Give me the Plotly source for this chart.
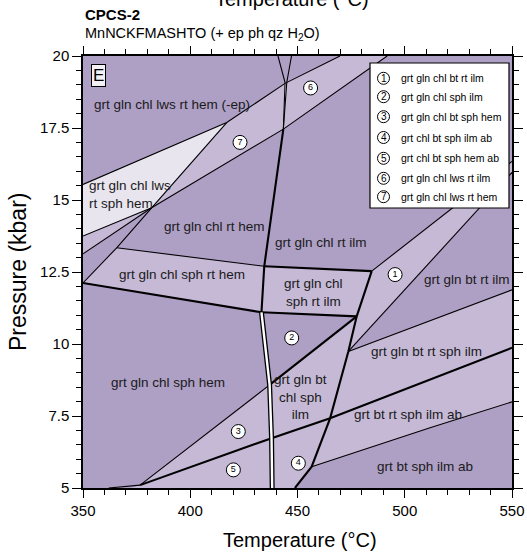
import plotly.graph_objects as go

# ---------------- data (T in degC, P in kbar) ----------------
T_RANGE = [350, 550]
P_RANGE = [5, 20]

DARK = "#AE9FC4"
LIGHT = "#C5B9D6"
VLIGHT = "#E9E5EF"

# light / very light field polygons (background is the dark field colour)
f_lws_sph_T = [350, 417.0, 382.0, 350]
f_lws_sph_P = [15.54, 17.69, 14.73, 13.75]
f_wedge_T = [350, 382.0, 350]
f_wedge_P = [13.75, 14.73, 13.13]
f_band67_T = [382.0, 417.0, 444.2, 469.8, 491.8, 443.4]
f_band67_P = [14.73, 17.69, 19.05, 20.0, 20.0, 17.46]
f_sliver_T = [444.2, 445.0, 443.4]
f_sliver_P = [19.08, 19.08, 17.46]
f_sphrthem_T = [350, 365.7, 434.5, 433.2]
f_sphrthem_P = [12.12, 13.34, 12.70, 11.10]
f_sphrtilm_T = [434.5, 484.6, 477.6, 433.2]
f_sphrtilm_P = [12.70, 12.53, 10.96, 11.10]
f_one_T = [484.6, 550, 550, 473.7, 477.6]
f_one_P = [12.53, 16.34, 15.96, 9.74, 10.96]
f_glnbtchl_T = [437.0, 477.6, 473.7, 465.2, 437.9]
f_glnbtchl_P = [8.58, 10.96, 9.74, 7.42, 6.73]
f_glnbtrtsph_T = [473.7, 550, 550, 465.2]
f_glnbtrtsph_P = [9.74, 11.88, 9.87, 7.42]
f_btrtsphab_T = [465.2, 550, 550, 511.8, 456.6]
f_btrtsphab_P = [7.42, 9.87, 7.99, 7.09, 5.74]
f_four_T = [437.9, 465.2, 456.6, 448.8, 438.2]
f_four_P = [6.73, 7.42, 5.74, 5.0, 5.0]
f_three_T = [376.6, 437.0, 437.9]
f_three_P = [5.10, 8.58, 6.73]
f_five_T = [376.6, 437.9, 438.2, 372.0]
f_five_P = [5.10, 6.73, 5.0, 5.0]

fields = [
    (f_lws_sph_T, f_lws_sph_P, VLIGHT),
    (f_wedge_T, f_wedge_P, LIGHT),
    (f_band67_T, f_band67_P, LIGHT),
    (f_sliver_T, f_sliver_P, VLIGHT),
    (f_sphrthem_T, f_sphrthem_P, LIGHT),
    (f_sphrtilm_T, f_sphrtilm_P, LIGHT),
    (f_one_T, f_one_P, LIGHT),
    (f_glnbtchl_T, f_glnbtchl_P, LIGHT),
    (f_glnbtrtsph_T, f_glnbtrtsph_P, LIGHT),
    (f_btrtsphab_T, f_btrtsphab_P, LIGHT),
    (f_four_T, f_four_P, LIGHT),
    (f_three_T, f_three_P, LIGHT),
    (f_five_T, f_five_P, LIGHT),
]

# boundary lines
thin_lines = [
    ([350, 417.0], [15.54, 17.69]),
    ([350, 365.7, 382.0, 417.0], [12.12, 13.34, 14.73, 17.69]),
    ([417.0, 444.2, 469.8], [17.69, 19.05, 20.0]),
    ([382.0, 443.4, 491.8], [14.73, 17.46, 20.0]),
    ([350, 382.0], [13.75, 14.73]),
    ([350, 382.0], [13.13, 14.73]),
    ([440.9, 444.2, 443.4], [20.0, 19.08, 17.46]),
    ([447.2, 445.0, 443.4], [20.0, 19.08, 17.46]),
    ([365.7, 434.5], [13.34, 12.70]),
    ([484.6, 550], [12.53, 16.34]),
    ([473.7, 550], [9.74, 15.96]),
    ([473.7, 550], [9.74, 11.88]),
    ([437.0, 376.6], [8.58, 5.10]),
    ([362.0, 376.6], [5.0, 5.10]),
    ([456.6, 511.8, 550], [5.74, 7.09, 7.99]),
]
thick_lines = [
    ([443.4, 440.8, 434.5, 433.2], [17.46, 16.07, 12.70, 11.10]),
    ([350, 433.2], [12.12, 11.10]),
    ([434.5, 484.6], [12.70, 12.53]),
    ([433.2, 477.6], [11.10, 10.96]),
    ([484.6, 477.6, 473.7, 465.2, 456.6, 448.8], [12.53, 10.96, 9.74, 7.42, 5.74, 5.0]),
    ([477.6, 437.0], [10.96, 8.58]),
    ([376.6, 437.9, 465.2, 550], [5.10, 6.73, 7.42, 9.87]),
]
double_T = [433.2, 435.3, 437.0, 437.9, 438.2]
double_P = [11.10, 9.8, 8.58, 6.73, 5.0]

# field labels
label_text = [
    "grt gln chl lws rt hem (-ep)", "grt gln chl rt hem", "grt gln chl rt ilm",
    "grt gln chl sph rt hem", "grt gln chl<br>sph rt ilm", "grt gln bt rt ilm",
    "grt gln bt rt sph ilm", "grt gln chl sph hem", "grt gln bt<br>chl sph<br>ilm",
    "grt bt rt sph ilm ab", "grt bt sph ilm ab",
]
label_T = [391.3, 411.5, 461.0, 396.0, 457.4, 528.8, 510.2, 389.8, 451.2, 501.7, 509.4]
label_P = [18.33, 14.09, 13.53, 12.41, 11.80, 12.24, 9.74, 8.66, 8.17, 7.54, 5.76]
left_label_text = "grt gln chl lws<br>rt sph hem"
left_label_T = 352.0
left_label_P = 15.18

circ_num = ["1", "2", "3", "4", "5", "6", "7"]
circ_T = [495.5, 447.3, 422.4, 450.4, 420.1, 456.1, 423.2]
circ_P = [12.41, 10.21, 6.96, 5.86, 5.63, 18.89, 17.00]

legend_text = [
    "grt gln chl bt rt ilm", "grt gln chl sph ilm", "grt gln chl bt sph hem",
    "grt chl bt sph ilm ab", "grt chl bt sph hem ab", "grt gln chl lws rt ilm",
    "grt gln chl lws rt hem",
]

x_ticks = [350, 400, 450, 500, 550]
y_ticks = [5, 7.5, 10, 12.5, 15, 17.5, 20]

# ---------------- figure ----------------
W, H = 527, 554
X0, X1 = 83, 512
Y0, Y1 = 56, 488
FONT = "Liberation Sans, Arial, Helvetica, sans-serif"


def pxx(px):
    return (px - X0) / (X1 - X0)


def pxy(py):
    return (Y1 - py) / (Y1 - Y0)


def pann(x, y, text, size, xanchor="center", **kw):
    d = dict(x=pxx(x), y=pxy(y), xref="paper", yref="paper", text=text, showarrow=False,
             xanchor=xanchor, yanchor="middle", font=dict(family=FONT, size=size, color="black"))
    d.update(kw)
    return d


fig = go.Figure()
for tt, pp, col in fields:
    fig.add_trace(go.Scatter(x=tt, y=pp, fill="toself", fillcolor=col, mode="lines",
                             line=dict(width=0, color=col), hoverinfo="skip", showlegend=False))
for tt, pp in thin_lines:
    fig.add_trace(go.Scatter(x=tt, y=pp, mode="lines", line=dict(color="black", width=1.1),
                             hoverinfo="skip", showlegend=False))
for tt, pp in thick_lines:
    fig.add_trace(go.Scatter(x=tt, y=pp, mode="lines", line=dict(color="black", width=2.1),
                             hoverinfo="skip", showlegend=False))
fig.add_trace(go.Scatter(x=double_T, y=double_P, mode="lines", line=dict(color="black", width=5),
                         hoverinfo="skip", showlegend=False))
fig.add_trace(go.Scatter(x=double_T, y=double_P, mode="lines", line=dict(color="white", width=2.4),
                         hoverinfo="skip", showlegend=False))
fig.add_trace(go.Scatter(x=circ_T, y=circ_P, mode="markers+text", text=circ_num,
                         textposition="middle center",
                         textfont=dict(family=FONT, size=9, color="black"),
                         marker=dict(size=14, color="white", line=dict(color="black", width=1)),
                         hoverinfo="skip", showlegend=False))

ann = []
for t, x, y in zip(label_text, label_T, label_P):
    ann.append(dict(x=x, y=y, xref="x", yref="y", text=t, showarrow=False,
                    xanchor="center", yanchor="middle",
                    font=dict(family=FONT, size=13.5, color="#1a1a1a"), align="center"))
ann.append(dict(x=left_label_T, y=left_label_P, xref="x", yref="y", text=left_label_text,
                showarrow=False, xanchor="left", yanchor="middle", align="left",
                font=dict(family=FONT, size=13.5, color="#1a1a1a")))

# legend box
shapes = [dict(type="rect", xref="paper", yref="paper", x0=pxx(370), x1=pxx(509),
               y0=pxy(208), y1=pxy(63), fillcolor="white", line=dict(color="black", width=1.2),
               layer="above")]
leg_rows = [78.3, 96.7, 116.7, 137.5, 158.3, 178.3, 196.7]
for i, (row, txt) in enumerate(zip(leg_rows, legend_text)):
    shapes.append(dict(type="circle", xref="paper", yref="paper", x0=pxx(377.5), x1=pxx(389.5),
                       y0=pxy(row + 6), y1=pxy(row - 6), fillcolor="white",
                       line=dict(color="black", width=1), layer="above"))
    ann.append(pann(383.5, row, circ_num[i], 10))
    ann.append(pann(399, row, txt, 10.5, xanchor="left"))

# E box
ann.append(pann(98, 75.5, "E", 17, bgcolor="#F3F1F6", bordercolor="black", borderwidth=1,
                borderpad=1))

# titles
ann.append(pann(X0, 15, "<b>CPCS-2</b>", 15, xanchor="left"))
ann.append(pann(X0, 34, "MnNCKFMASHTO (+ ep ph qz H<sub>2</sub>O)", 14.5, xanchor="left"))
ann.append(pann(292, -1, "Temperature (°C)", 20))
ann.append(pann(300, 540, "Temperature (°C)", 20))
ann.append(pann(18, 272, "Pressure (kbar)", 23, textangle=-90))

fig.update_layout(
    width=W, height=H, margin=dict(l=X0, r=W - X1, t=Y0, b=H - Y1, autoexpand=False),
    paper_bgcolor="white", plot_bgcolor=DARK, showlegend=False,
    annotations=ann, shapes=shapes,
    font=dict(family=FONT, size=15, color="black"),
)
fig.update_xaxes(range=T_RANGE, tickvals=x_ticks, showgrid=False, zeroline=False, automargin=False,
                 showline=True, linecolor="black", linewidth=1.5, mirror="ticks",
                 ticks="outside", ticklen=8, tickwidth=1.2, tickcolor="black",
                 tickfont=dict(family=FONT, size=15, color="black"),
                 minor=dict(dtick=10, ticks="outside", ticklen=5, tickwidth=1, tickcolor="black"))
fig.update_yaxes(range=P_RANGE, tickvals=y_ticks, showgrid=False, zeroline=False, automargin=False,
                 showline=True, linecolor="black", linewidth=1.5, mirror="ticks",
                 ticks="outside", ticklen=9, tickwidth=1.2, tickcolor="black",
                 tickfont=dict(family=FONT, size=15, color="black"),
                 minor=dict(dtick=0.5, ticks="outside", ticklen=5, tickwidth=1, tickcolor="black"))

fig.write_html("out.html")
